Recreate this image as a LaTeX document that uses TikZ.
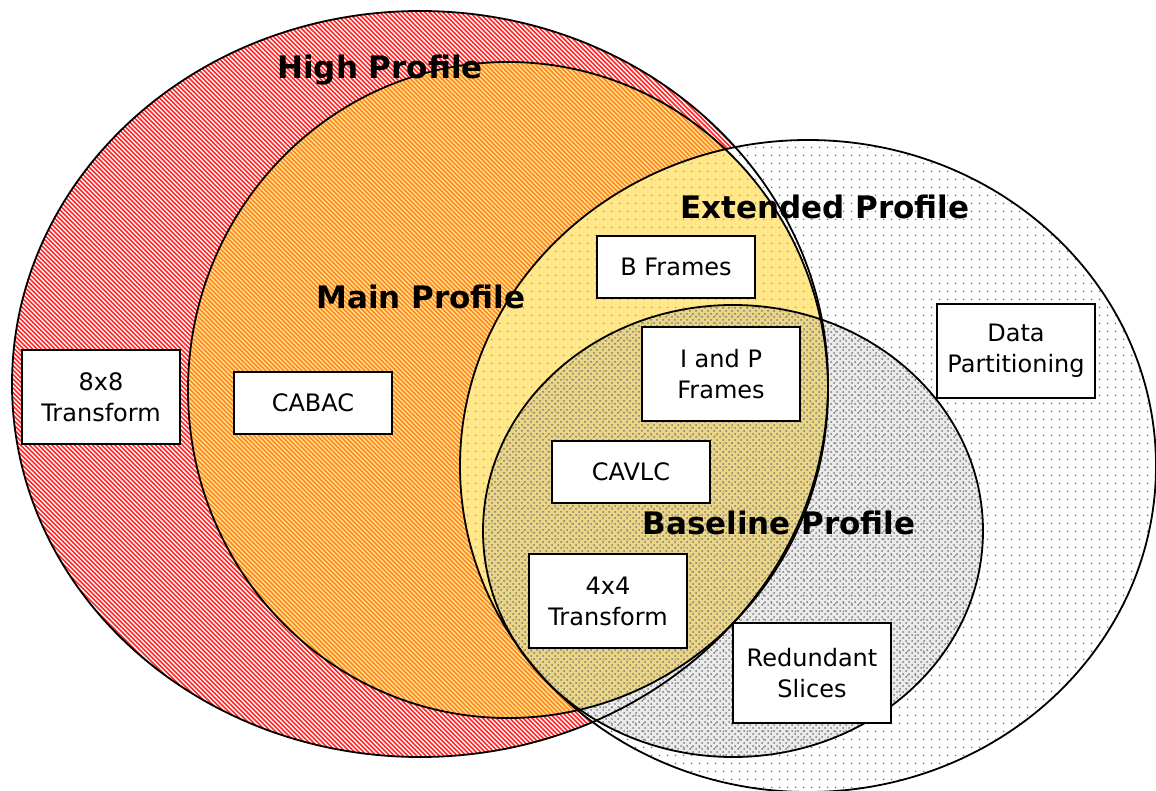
\documentclass[tikz,border=0pt]{standalone}
\usepackage{fontspec}
\setmainfont{DejaVu Sans}
\usepackage{tikz}
\usetikzlibrary{patterns}
\definecolor{ink}{HTML}{000000}
\definecolor{hiRed}{HTML}{FF2A2A}
\definecolor{mainYel}{HTML}{FFD42A}
\definecolor{extBlue}{HTML}{4040F5}
\definecolor{baseGray}{HTML}{7A7A7A}
% dot raster for the extended area
\pgfdeclarepatterninherentlycolored{dotgrid}{\pgfqpoint{0pt}{0pt}}{\pgfqpoint{3.8pt}{3.8pt}}{\pgfqpoint{3.8pt}{3.8pt}}{
  \pgfsetfillcolor{extBlue!80}
  \pgfpathcircle{\pgfqpoint{1.9pt}{1.9pt}}{0.5pt}
  \pgfusepath{fill}}
\tikzset{
  feat/.style={draw=ink, fill=white, line width=0.8pt, minimum width=79pt, minimum height=31pt,
    align=center, font=\fontsize{12}{15.5}\selectfont, inner sep=2pt},
  prof/.style={font=\fontsize{15.5}{18}\bfseries\selectfont, text=ink, inner sep=0pt},
  rim/.style={draw=ink, line width=0.9pt},
}

\begin{document}
\begin{tikzpicture}[x=0.5pt, y=-0.5pt]
\useasboundingbox (0,0) rectangle (1156,791);
% profile areas, back to front
\fill[white] (420,384) ellipse [x radius=408, y radius=373];
\begin{scope}
  \clip (420,384) ellipse [x radius=408, y radius=373];
  \foreach \k in {-780,-775.5,...,830}
    \draw[hiRed, line width=0.75pt] (\k,0) -- ++(800,800);
\end{scope}
\fill[white] (808,466) ellipse [x radius=348, y radius=326];
\fill[pattern=dotgrid] (808,466) ellipse [x radius=348, y radius=326];
\fill[mainYel, fill opacity=0.55] (508,390) ellipse [x radius=320, y radius=328];
\fill[baseGray, fill opacity=0.15] (733,531) ellipse [x radius=250, y radius=226];
\fill[pattern=crosshatch dots, pattern color=baseGray] (733,531) ellipse [x radius=250, y radius=226];
% outlines
\draw[rim] (420,384) ellipse [x radius=408, y radius=373];
\draw[rim] (808,466) ellipse [x radius=348, y radius=326];
\draw[rim] (508,390) ellipse [x radius=320, y radius=328];
\draw[rim] (733,531) ellipse [x radius=250, y radius=226];
% profile names
\node[prof] (high) at (380,70) {High Profile};
\node[prof] (main) at (421,297) {Main Profile};
\node[prof] (ext) at (825,207) {Extended Profile};
\node[prof] (base) at (779,523) {Baseline Profile};
% coding tools
\node[feat, minimum height=47pt] (t8) at (101,397) {8x8\\Transform};
\node[feat] (cabac) at (313,403) {CABAC};
\node[feat] (bfr) at (676,267) {B Frames};
\node[feat, minimum height=47pt] (ipfr) at (721,374) {I and P\\Frames};
\node[feat, minimum height=47pt] (dpart) at (1016,351) {Data\\Partitioning};
\node[feat] (cavlc) at (631,472) {CAVLC};
\node[feat, minimum height=47pt] (t4) at (608,601) {4x4\\Transform};
\node[feat, minimum height=50pt] (rslc) at (812,673) {Redundant\\Slices};
\end{tikzpicture}
\end{document}
